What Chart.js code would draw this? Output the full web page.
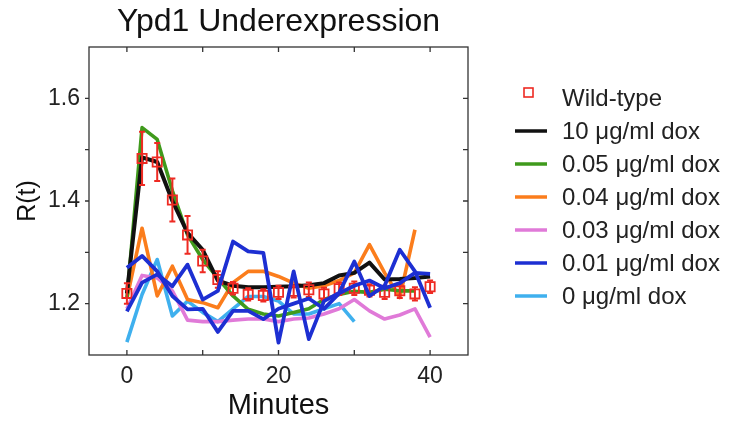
<!DOCTYPE html>
<html>
<head>
<meta charset="utf-8">
<script src="https://cdn.jsdelivr.net/npm/chart.js@4.4.1/dist/chart.umd.min.js"></script>
<style>
html, body { margin: 0; padding: 0; background: #fff; }
</style>
</head>
<body>
<canvas id="ypd1Chart" width="730" height="423"></canvas>
<script>
const minutes = [0, 2, 4, 6, 8, 10, 12, 14, 16, 18, 20, 22, 24, 26, 28, 30, 32, 34, 36, 38, 40];

const wildType = [1.22, 1.483, 1.476, 1.402, 1.334, 1.283, 1.247, 1.23, 1.218, 1.216, 1.222, 1.224, 1.227, 1.219, 1.229, 1.23, 1.226, 1.222, 1.225, 1.219, 1.233];
const wildTypeErr = [0.02, 0.052, 0.037, 0.042, 0.037, 0.022, 0.016, 0.012, 0.012, 0.012, 0.013, 0.012, 0.014, 0.012, 0.012, 0.013, 0.012, 0.013, 0.014, 0.013, 0.012];
const dox10 = [1.22, 1.485, 1.476, 1.40, 1.338, 1.305, 1.245, 1.235, 1.232, 1.232, 1.233, 1.234, 1.236, 1.24, 1.255, 1.26, 1.28, 1.247, 1.248, 1.25, 1.253];
const dox005 = [1.21, 1.543, 1.52, 1.42, 1.334, 1.286, 1.25, 1.215, 1.189, 1.18, 1.176, 1.183, 1.19, 1.208, 1.218, 1.224, 1.222, 1.228, 1.225, 1.225];
const dox004 = [1.21, 1.347, 1.215, 1.273, 1.208, 1.202, 1.192, 1.241, 1.263, 1.263, 1.253, 1.24, 1.23, 1.235, 1.245, 1.26, 1.315, 1.26, 1.212, 1.344];
const dox003 = [1.19, 1.255, 1.25, 1.225, 1.168, 1.165, 1.165, 1.168, 1.17, 1.17, 1.165, 1.17, 1.172, 1.18, 1.19, 1.208, 1.186, 1.17, 1.178, 1.19, 1.135];
const dox001 = [1.185, 1.241, 1.257, 1.234, 1.276, 1.208, 1.225, 1.321, 1.302, 1.299, 1.124, 1.263, 1.131, 1.205, 1.221, 1.282, 1.215, 1.235, 1.305, 1.263, 1.192];
const dox001rep = [1.27, 1.293, 1.263, 1.215, 1.189, 1.19, 1.145, 1.186, 1.186, 1.17, 1.19, 1.2, 1.21, 1.19, 1.22, 1.235, 1.245, 1.23, 1.24, 1.26, 1.258];
const dox0 = [1.125, 1.218, 1.286, 1.176, 1.205, 1.183, 1.165, 1.19, 1.214, 1.214, 1.205, 1.18, 1.18, 1.19, 1.2, 1.165];

const seriesLabels = ["Wild-type", "10 μg/ml dox", "0.05 μg/ml dox", "0.04 μg/ml dox", "0.03 μg/ml dox", "0.01 μg/ml dox", "0 μg/ml dox"];
const xTicks = [0, 10, 20, 30, 40];
const xLabels = [0, 20, 40];
const yTicks = [1.2, 1.3, 1.4, 1.5, 1.6];
const yLabels = [1.2, 1.4, 1.6];

const FONT = '"Liberation Sans", Arial, sans-serif';

function toPoints(values) {
	return values.map((v, i) => ({ x: minutes[i], y: v }));
}

function lineSet(label, values, color, order, width = 3.6) {
	return {
		label: label,
		data: toPoints(values),
		borderColor: color,
		backgroundColor: color,
		borderWidth: width,
		pointRadius: 0,
		tension: 0,
		borderJoinStyle: "round",
		fill: false,
		order: order,
	};
}

// frame around the plot with small inward ticks, like the original figure
const frameTicks = {
	id: "frameTicks",
	beforeDatasetsDraw(chart) {
		const { ctx, chartArea: a, scales } = chart;
		ctx.save();
		ctx.strokeStyle = "#333";
		ctx.lineWidth = 1.3;
		ctx.strokeRect(a.left, a.top, a.right - a.left, a.bottom - a.top);
		ctx.beginPath();
		xTicks.forEach((v) => {
			const px = scales.x.getPixelForValue(v);
			ctx.moveTo(px, a.bottom);
			ctx.lineTo(px, a.bottom - 5);
			ctx.moveTo(px, a.top);
			ctx.lineTo(px, a.top + 5);
		});
		yTicks.forEach((v) => {
			const py = scales.y.getPixelForValue(v);
			ctx.moveTo(a.left - 4, py);
			ctx.lineTo(a.left, py);
			ctx.moveTo(a.right, py);
			ctx.lineTo(a.right - 5, py);
		});
		ctx.stroke();
		ctx.restore();
	},
};

const errorBars = {
	id: "errorBars",
	afterDatasetDraw(chart, args) {
		const ds = chart.data.datasets[args.index];
		if (!ds.errors) return;
		const { ctx, scales } = chart;
		ctx.save();
		ctx.strokeStyle = ds.borderColor;
		ctx.lineWidth = 2;
		ctx.beginPath();
		ds.data.forEach((p, i) => {
			const px = scales.x.getPixelForValue(p.x);
			const top = scales.y.getPixelForValue(p.y + ds.errors[i]);
			const bot = scales.y.getPixelForValue(p.y - ds.errors[i]);
			ctx.moveTo(px, top);
			ctx.lineTo(px, bot);
			ctx.moveTo(px - 3, top);
			ctx.lineTo(px + 3, top);
			ctx.moveTo(px - 3, bot);
			ctx.lineTo(px + 3, bot);
		});
		ctx.stroke();
		ctx.restore();
	},
};

const sideLegend = {
	id: "sideLegend",
	afterDraw(chart) {
		const { ctx } = chart;
		ctx.save();
		ctx.font = "24px " + FONT;
		ctx.textBaseline = "middle";
		ctx.fillStyle = "#222";
		let row = 0;
		chart.data.datasets.forEach((ds) => {
			if (ds.inLegend === false) return;
			const cy = 98 + row * 33;
			ctx.strokeStyle = ds.borderColor;
			if (ds.showLine === false) {
				ctx.lineWidth = 1.6;
				ctx.strokeRect(524, cy - 10, 9, 9);
			} else {
				ctx.lineWidth = 3.5;
				ctx.beginPath();
				ctx.moveTo(515, cy);
				ctx.lineTo(547, cy);
				ctx.stroke();
			}
			ctx.fillText(ds.label, 562, cy + 1);
			row++;
		});
		ctx.restore();
	},
};

const wtSet = {
	label: seriesLabels[0],
	data: toPoints(wildType),
	errors: wildTypeErr,
	showLine: false,
	borderColor: "#ee2a22",
	backgroundColor: "rgba(0,0,0,0)",
	pointStyle: "rect",
	pointRadius: 6.5,
	pointBorderWidth: 1.8,
	order: 1,
};

const rep = lineSet(seriesLabels[5], dox001rep, "#1d2fd2", 0, 3.8);
rep.inLegend = false;

const datasets = [
	wtSet,
	lineSet(seriesLabels[1], dox10, "#111111", 2, 4),
	lineSet(seriesLabels[2], dox005, "#3f9a1c", 3),
	lineSet(seriesLabels[3], dox004, "#fb7d1c", 4),
	lineSet(seriesLabels[4], dox003, "#e07ad8", 5),
	lineSet(seriesLabels[5], dox001, "#1d2fd2", 0, 3.8),
	lineSet(seriesLabels[6], dox0, "#3fb0ee", 6),
	rep,
];

new Chart(document.getElementById("ypd1Chart"), {
	type: "line",
	data: { datasets: datasets },
	options: {
		responsive: false,
		animation: false,
		layout: { padding: { left: 0, right: 262, top: 0, bottom: 0 } },
		plugins: {
			legend: { display: false },
			tooltip: { enabled: false },
			title: {
				display: true,
				text: "Ypd1 Underexpression",
				fullSize: false,
				color: "#111",
				font: { family: FONT, size: 32, weight: "normal" },
				padding: { top: 3, bottom: 5.6 },
			},
		},
		scales: {
			x: {
				type: "linear",
				min: -5,
				max: 45,
				afterBuildTicks: (scale) => {
					scale.ticks = xTicks.map((v) => ({ value: v }));
				},
				afterFit: (scale) => {
					scale.height = 68;
				},
				grid: { display: false, drawTicks: false },
				border: { display: false },
				ticks: {
					padding: 8,
					color: "#222",
					font: { family: FONT, size: 23 },
					callback: (v) => (xLabels.includes(v) ? String(v) : ""),
				},
				title: {
					display: true,
					text: "Minutes",
					color: "#111",
					font: { family: FONT, size: 29 },
					padding: { top: 0, bottom: 0 },
				},
			},
			y: {
				type: "linear",
				min: 1.1,
				max: 1.7,
				afterBuildTicks: (scale) => {
					scale.ticks = yTicks.map((v) => ({ value: v }));
				},
				afterFit: (scale) => {
					scale.width = 89;
				},
				grid: { display: false, drawTicks: false },
				border: { display: false },
				ticks: {
					padding: 9,
					color: "#222",
					font: { family: FONT, size: 23 },
					callback: (v) => (yLabels.includes(v) ? v.toFixed(1) : ""),
				},
				title: {
					display: true,
					text: "R(t)",
					color: "#111",
					font: { family: FONT, size: 25 },
					padding: { top: 13, bottom: 0 },
				},
			},
		},
	},
	plugins: [frameTicks, errorBars, sideLegend],
});
</script>
</body>
</html>
